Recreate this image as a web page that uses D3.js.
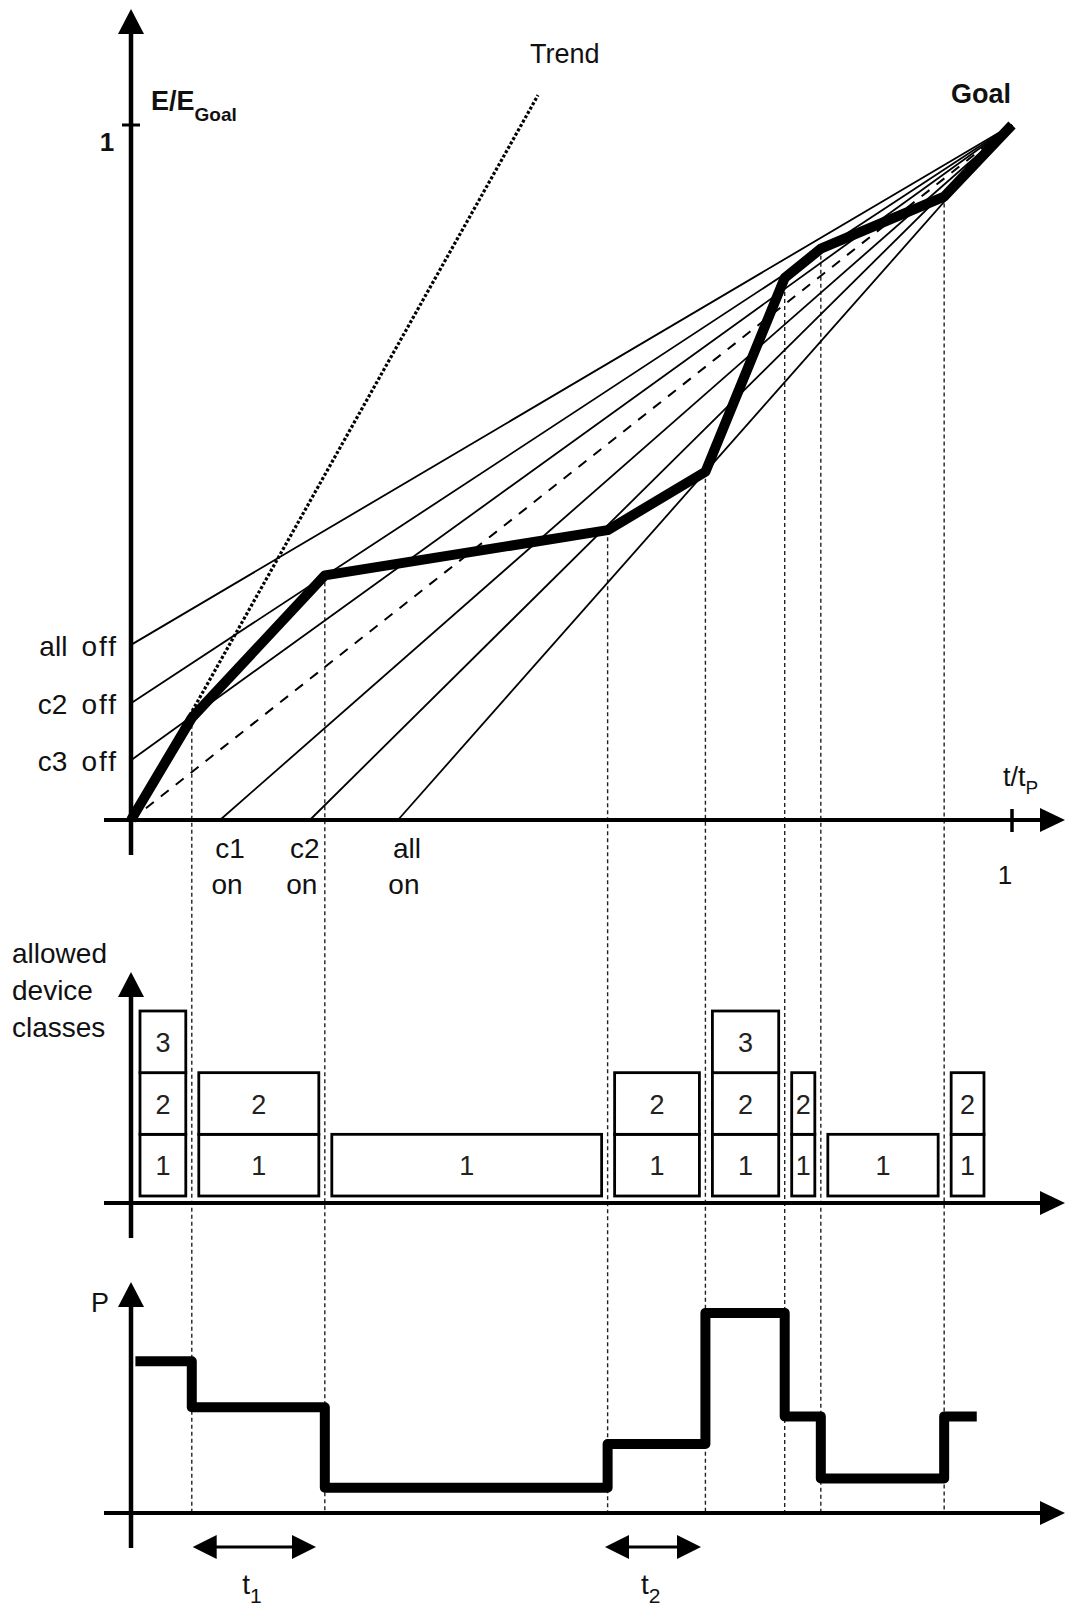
<!DOCTYPE html>
<html>
<head>
<meta charset="utf-8">
<script src="https://cdn.jsdelivr.net/npm/d3@7"></script>
<style>
    body { margin: 0; background: #fff; }
    svg text { font-family: "Liberation Sans", Arial, sans-serif; fill: #111; }
</style>
</head>
<body>
<div id="chart"></div>
<script>
// energy trajectory: kink points of the thick curve (t/tP, E/EGoal)
const kinkT = [0, 0.069, 0.220, 0.541, 0.652, 0.742, 0.783, 0.923, 1];
const kinkE = [0, 0.147, 0.352, 0.417, 0.501, 0.780, 0.822, 0.897, 1];

// fan of straight lines that all end in the goal
const fanStartT = [0, 0, 0, 0.101, 0.203, 0.303];
const fanStartE = [0.252, 0.168, 0.086, 0, 0, 0];
const offLabels = ['all', 'c2', 'c3'];
const onLabels = [['c1', 'on'], ['c2', 'on'], ['all', 'on']];

// trend line (dotted)
const trendT = [0, 0.462];
const trendE = [0, 1.043];

// allowed device classes per interval (intervals between kinks, last one ends at classEndT)
const classCounts = [3, 2, 1, 2, 3, 2, 1, 2];
const classEndT = 0.975;

// power per interval
const powerLevels = [6.6, 4.6, 1.1, 3.0, 8.7, 4.2, 1.5, 4.2];
const powerEndT = 0.96;

// delay arrows t1, t2
const delayIndex = ['1', '2'];
const delayFrom = [0.070, 0.538];
const delayTo = [0.210, 0.647];

let svg = d3.select('#chart').append('svg')
    .attr('width', 1067)
    .attr('height', 1608);

// scales
let x = d3.scaleLinear().domain([0, 1]).range([131, 1012]);
let yE = d3.scaleLinear().domain([0, 1]).range([820, 125]);
let yC = d3.scaleLinear().domain([0, 3]).range([1196, 1011]);
let yP = d3.scaleLinear().domain([0, 10]).range([1513, 1283]);

let line = d3.line().x(d => x(d[0])).y(d => d[1]);

// helpers for arrows
function upArrow(cx, tipY) {
    svg.append('path')
        .attr('d', `M${cx},${tipY} L${cx - 13},${tipY + 25} L${cx + 13},${tipY + 25} Z`)
        .attr('fill', '#000');
}
function rightArrow(tipX, cy) {
    svg.append('path')
        .attr('d', `M${tipX},${cy} L${tipX - 25},${cy - 12} L${tipX - 25},${cy + 12} Z`)
        .attr('fill', '#000');
}
function axisLines(yTop, yBottom, yAxisPos) {
    svg.append('line')
        .attr('x1', x(0)).attr('x2', x(0))
        .attr('y1', yTop + 10).attr('y2', yBottom)
        .attr('stroke', '#000').attr('stroke-width', 4.5);
    svg.append('line')
        .attr('x1', 104).attr('x2', 1050)
        .attr('y1', yAxisPos).attr('y2', yAxisPos)
        .attr('stroke', '#000').attr('stroke-width', 4);
    upArrow(x(0), yTop);
    rightArrow(1065, yAxisPos);
}

//// vertical dashed guide lines ////
kinkT.slice(1, -1).forEach((t, i) => {
    svg.append('line')
        .attr('x1', x(t)).attr('x2', x(t))
        .attr('y1', yE(kinkE[i + 1])).attr('y2', yP(0))
        .attr('stroke', '#222')
        .attr('stroke-width', 1.4)
        .attr('stroke-dasharray', '4,3');
});

//// top chart ////

// fan lines
fanStartT.forEach((t, i) => {
    svg.append('line')
        .attr('x1', x(t)).attr('y1', yE(fanStartE[i]))
        .attr('x2', x(1)).attr('y2', yE(1))
        .attr('stroke', '#000').attr('stroke-width', 1.8);
});

// dashed line from origin to goal
svg.append('line')
    .attr('x1', x(0)).attr('y1', yE(0))
    .attr('x2', x(1)).attr('y2', yE(1))
    .attr('stroke', '#000').attr('stroke-width', 2)
    .attr('stroke-dasharray', '10,9');

// trend
svg.append('line')
    .attr('x1', x(trendT[0])).attr('y1', yE(trendE[0]))
    .attr('x2', x(trendT[1])).attr('y2', yE(trendE[1]))
    .attr('stroke', '#000').attr('stroke-width', 3.2)
    .attr('stroke-dasharray', '3,2');

// energy curve
svg.append('path')
    .attr('d', line(kinkT.map((t, i) => [t, yE(kinkE[i])])))
    .attr('fill', 'none')
    .attr('stroke', '#000')
    .attr('stroke-width', 10)
    .attr('stroke-linejoin', 'round');

axisLines(9, 855, yE(0));

// tick at E = 1 and t = 1
svg.append('line')
    .attr('x1', x(0) - 9).attr('x2', x(0) + 9)
    .attr('y1', yE(1)).attr('y2', yE(1))
    .attr('stroke', '#000').attr('stroke-width', 3);
svg.append('line')
    .attr('x1', x(1)).attr('x2', x(1))
    .attr('y1', yE(0) - 11).attr('y2', yE(0) + 12)
    .attr('stroke', '#000').attr('stroke-width', 3.5);

svg.append('text')
    .attr('x', 107).attr('y', yE(1) + 26)
    .attr('text-anchor', 'middle')
    .attr('font-size', 26).attr('font-weight', 'bold')
    .text('1');

let eLabel = svg.append('text')
    .attr('x', 151).attr('y', 110)
    .attr('font-size', 27).attr('font-weight', 'bold');
eLabel.append('tspan').text('E/E');
eLabel.append('tspan').attr('dy', 11).attr('font-size', 19).text('Goal');

svg.append('text')
    .attr('x', x(1) - 1).attr('y', 103)
    .attr('text-anchor', 'end')
    .attr('font-size', 27).attr('font-weight', 'bold')
    .text('Goal');

svg.append('text')
    .attr('x', 530).attr('y', 63)
    .attr('font-size', 27)
    .text('Trend');

// fan labels
offLabels.forEach((label, i) => {
    let t = svg.append('text')
        .attr('x', 118).attr('y', yE(fanStartE[i]) + 11)
        .attr('text-anchor', 'end')
        .attr('font-size', 28);
    t.append('tspan').text(label);
    t.append('tspan').attr('dx', 14).attr('letter-spacing', 2).text('off');
});
let onShift = [10, -5, 9];
onLabels.forEach((label, i) => {
    let cx = x(fanStartT[i + 3]) + onShift[i];
    svg.append('text')
        .attr('x', cx).attr('y', yE(0) + 38)
        .attr('text-anchor', 'middle')
        .attr('font-size', 28)
        .text(label[0]);
    svg.append('text')
        .attr('x', cx - 3).attr('y', yE(0) + 74)
        .attr('text-anchor', 'middle')
        .attr('font-size', 28)
        .text(label[1]);
});

svg.append('text')
    .attr('x', x(1) - 7).attr('y', yE(0) + 64)
    .attr('text-anchor', 'middle')
    .attr('font-size', 26)
    .text('1');

let tLabel = svg.append('text')
    .attr('x', 1003).attr('y', 786)
    .attr('font-size', 27);
tLabel.append('tspan').text('t/t');
tLabel.append('tspan').attr('dy', 8).attr('font-size', 19).text('P');

//// middle chart: allowed device classes ////
axisLines(972, 1238, 1203);

['allowed', 'device', 'classes'].forEach((w, i) => {
    svg.append('text')
        .attr('x', 12).attr('y', 963 + i * 37)
        .attr('font-size', 28)
        .text(w);
});

let intervalStart = kinkT.slice(0, classCounts.length);
let intervalEnd = kinkT.slice(1, classCounts.length).concat([classEndT]);

classCounts.forEach((n, i) => {
    let x0 = x(intervalStart[i]) + (i === 0 ? 9 : 7);
    let x1 = x(intervalEnd[i]) - 6;
    d3.range(1, n + 1).forEach(k => {
        svg.append('rect')
            .attr('x', x0).attr('y', yC(k))
            .attr('width', x1 - x0)
            .attr('height', yC(k - 1) - yC(k))
            .attr('fill', '#fff')
            .attr('stroke', '#000')
            .attr('stroke-width', 2.8);
        svg.append('text')
            .attr('x', (x0 + x1) / 2)
            .attr('y', (yC(k) + yC(k - 1)) / 2 + 10)
            .attr('text-anchor', 'middle')
            .attr('font-size', 27)
            .style('fill', '#222')
            .text(k);
    });
});

//// bottom chart: power ////
axisLines(1282, 1548, yP(0));

svg.append('text')
    .attr('x', 100).attr('y', 1312)
    .attr('text-anchor', 'middle')
    .attr('font-size', 27)
    .text('P');

let powerEnd = kinkT.slice(1, powerLevels.length).concat([powerEndT]);
let stepPoints = [];
powerLevels.forEach((p, i) => {
    stepPoints.push([intervalStart[i], yP(p)]);
    stepPoints.push([powerEnd[i], yP(p)]);
});
stepPoints[0][0] = 0.005;

svg.append('path')
    .attr('d', line(stepPoints))
    .attr('fill', 'none')
    .attr('stroke', '#000')
    .attr('stroke-width', 10)
    .attr('stroke-linejoin', 'round');

// delay arrows
delayIndex.forEach((idx, i) => {
    let a = x(delayFrom[i]), b = x(delayTo[i]), cy = 1547;
    svg.append('line')
        .attr('x1', a + 20).attr('x2', b - 20)
        .attr('y1', cy).attr('y2', cy)
        .attr('stroke', '#000').attr('stroke-width', 3);
    svg.append('path')
        .attr('d', `M${a},${cy} L${a + 24},${cy - 12} L${a + 24},${cy + 12} Z`)
        .attr('fill', '#000');
    svg.append('path')
        .attr('d', `M${b},${cy} L${b - 24},${cy - 12} L${b - 24},${cy + 12} Z`)
        .attr('fill', '#000');

    let lbl = svg.append('text')
        .attr('x', (a + b) / 2 - 12).attr('y', 1594)
        .attr('font-size', 28);
    lbl.append('tspan').text('t');
    lbl.append('tspan').attr('dy', 9).attr('font-size', 21).text(idx);
});
</script>
</body>
</html>
